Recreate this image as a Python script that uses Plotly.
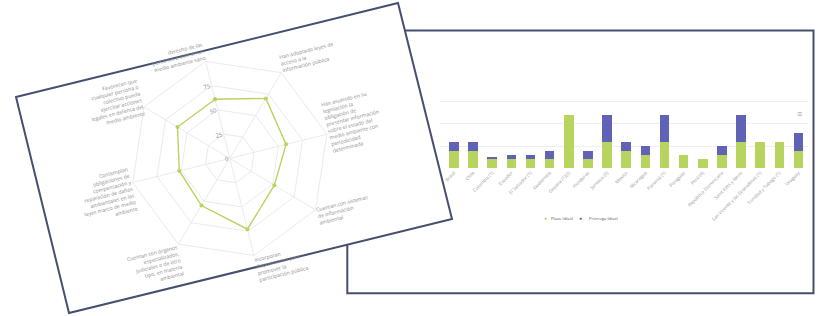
import plotly.graph_objects as go

W, H = 819, 316

# ---------------- data ----------------
radar_labels = [
    "derecho de las<br>personas a vivir en un<br>medio ambiente sano",
    "Han adoptado leyes de<br>acceso a la<br>información pública",
    "Han asumido en su<br>legislación la<br>obligación de<br>presentar información<br>sobre el estado del<br>medio ambiente con<br>periodicidad<br>determinada",
    "Cuentan con sistemas<br>de información<br>ambiental",
    "Incorporan<br>disposiciones para<br>promover la<br>participación pública",
    "Cuentan con órganos<br>especializados,<br>judiciales o de otro<br>tipo, en materia<br>ambiental",
    "Contemplan<br>obligaciones de<br>compensación y<br>reparación de daños<br>ambientales en las<br>leyes marco de medio<br>ambiente",
    "Favorecen que<br>cualquier persona o<br>colectivo pueda<br>ejercitar acciones<br>legales en defensa del<br>medio ambiente",
]
radar_values = [61, 70, 58, 52, 73, 55, 52, 61]
radar_ticks = [0, 25, 50, 75]

countries = ["Brasil", "Chile", "Colombia (1)", "Ecuador", "El Salvador (1)", "Guatemala",
             "Guyana (1)(2)", "Honduras", "Jamaica (3)", "México", "Nicaragua", "Panamá (1)",
             "Paraguay", "Perú (4)", "República Dominicana", "Saint Kitts y Nevis",
             "San Vicente y las Granadinas (1)", "Trinidad y Tabago (1)", "Uruguay"]
plazo = [20, 20, 10, 10, 10, 10, 60, 10, 30, 20, 15, 30, 15, 10, 15, 30, 30, 30, 20]
prorroga = [10, 10, 3, 5, 5, 10, 0, 10, 30, 10, 10, 30, 0, 0, 10, 30, 0, 0, 20]
bar_ticks = [0, 25, 50, 75]
series_names = ["Plazo (días)", "Prórroga (días)"]

GREEN = "#b7d45e"
BLUE = "#5f62b5"
NAVY = "#464f70"
TXT = "#8e8e8e"


def px(x):
    return x / W


def py(y):
    return 1 - y / H


fig = go.Figure()

# ---------------- radar ----------------
fig.add_trace(go.Scatterpolar(
    r=radar_values + radar_values[:1],
    theta=radar_labels + radar_labels[:1],
    mode="lines+markers",
    line=dict(color=GREEN, width=1.4),
    marker=dict(color=GREEN, size=4),
    showlegend=False,
    subplot="polar",
))

# ---------------- bars ----------------
fig.add_trace(go.Bar(x=countries, y=plazo, name=series_names[0], marker_color=GREEN,
                     marker_line_width=0, showlegend=False))
fig.add_trace(go.Bar(x=countries, y=prorroga, name=series_names[1], marker_color=BLUE,
                     marker_line_width=0, showlegend=False))

cx, cy, R = 229.8, 158.4, 100
rot = 104

fig.update_layout(
    width=W, height=H,
    margin=dict(l=0, r=0, t=0, b=0),
    paper_bgcolor="white",
    plot_bgcolor="rgba(0,0,0,0)",
    font=dict(family="Open Sans", color=TXT, size=5.5),
    barmode="stack",
    bargap=0.5,
    showlegend=False,
    polar=dict(
        domain=dict(x=[px(cx - R), px(cx + R)], y=[py(cy + R), py(cy - R)]),
        gridshape="linear",
        bgcolor="rgba(0,0,0,0)",
        angularaxis=dict(
            rotation=rot, direction="clockwise",
            linecolor="#ebebeb", gridcolor="#ebebeb",
            tickfont=dict(size=5.2, color=TXT),
            ticks="", tickangle=-14,
        ),
        radialaxis=dict(
            range=[0, 100], tickvals=radar_ticks, angle=rot, side="counterclockwise",
            showline=False, gridcolor="#ebebeb", ticks="",
            tickfont=dict(size=6, color=TXT), tickangle=90,
        ),
    ),
    xaxis=dict(
        domain=[px(440), px(808)],
        range=[-0.73, len(countries) - 0.5],
        tickangle=-45, tickfont=dict(size=4.6, color="#9a9a9a"),
        showgrid=False, showline=False, ticks="", zeroline=False,
    ),
    yaxis=dict(
        domain=[py(168.3), py(100)],
        range=[0, 76.8], tickvals=bar_ticks, showticklabels=False,
        gridcolor="#efefef", zeroline=False, showline=False,
    ),
)

# right card (behind)
fig.add_shape(type="rect", xref="paper", yref="paper", layer="below",
              x0=px(347.3), x1=px(813.5), y0=py(293.3), y1=py(30.5),
              line=dict(color=NAVY, width=2), fillcolor="white")

# left tilted card
corners = [(16, 97), (398, 3), (452, 219), (69, 313)]
path = "M " + " L ".join(f"{px(x):.5f},{py(y):.5f}" for x, y in corners) + " Z"
fig.add_shape(type="path", path=path, xref="paper", yref="paper", layer="below",
              line=dict(color=NAVY, width=2), fillcolor="white")

# legend (small dots like the original)
legend_items = [(545.7, GREEN, series_names[0]), (584.0, BLUE, series_names[1])]
for lx, col, name in legend_items:
    fig.add_annotation(text="●", x=px(lx), y=py(223.3), xref="paper", yref="paper",
                       showarrow=False, font=dict(size=5, color=col))
    fig.add_annotation(text=name, x=px(lx + 3.2), y=py(223.3), xref="paper", yref="paper",
                       xanchor="left", showarrow=False, font=dict(size=4.2, color="#555"))

# menu icon
fig.add_annotation(text="≡", x=px(804), y=py(105), xref="paper", yref="paper",
                   showarrow=False, font=dict(size=9, color="#999"))

fig.write_html("out.html", config={"displayModeBar": False},
               post_script="document.body.style.margin='0';document.body.style.overflow='hidden';")
